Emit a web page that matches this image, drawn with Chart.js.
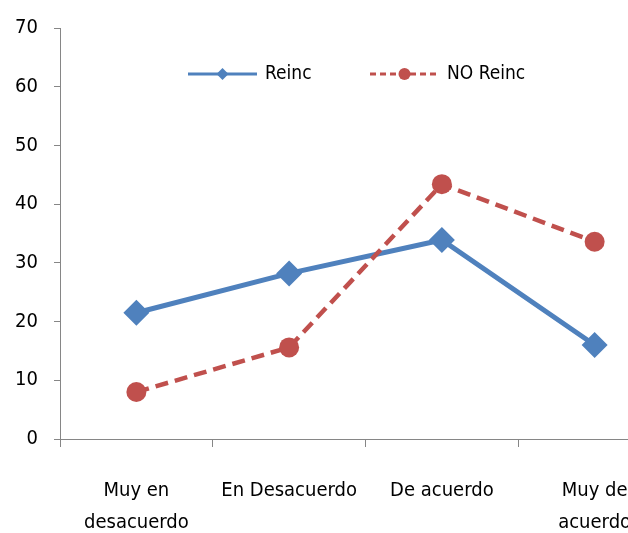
<!DOCTYPE html>
<html lang="es">
<head>
<meta charset="UTF-8">
<title>Reinc / NO Reinc</title>
<script src="https://cdn.jsdelivr.net/npm/chart.js"></script>
<style>
  html,body{margin:0;padding:0;background:#fff;overflow:hidden}
  #wrap{width:684px;height:533px}
</style>
</head>
<body>
<div id="wrap"><canvas id="chart" width="684" height="533"></canvas></div>
<script>
const categories=[['Muy en','desacuerdo'],'En Desacuerdo','De acuerdo',['Muy de','acuerdo']];
const reinc=[21.5,28.2,33.9,16.0];
const noReinc=[8.0,15.6,43.4,33.6];
const yTicks=[0,10,20,30,40,50,60,70];

const FONT='"Liberation Sans Narrow","DejaVu Sans Condensed",sans-serif';
const BLUE='#4F81BD';
const RED='#C0504D';

// leyenda estilo Excel: línea + marcador
const excelLegend={
  id:'excelLegend',
  afterDraw(chart){
    const ctx=chart.ctx, a=chart.chartArea;
    const y=a.top+46;
    const items=[
      {ds:chart.data.datasets[0],x:a.left+128,dash:[],style:'diamond'},
      {ds:chart.data.datasets[1],x:a.left+310,dash:[6,4],style:'circle'}
    ];
    ctx.save();
    items.forEach(it=>{
      ctx.strokeStyle=it.ds.borderColor;
      ctx.lineWidth=3;
      ctx.setLineDash(it.dash);
      ctx.beginPath();ctx.moveTo(it.x,y);ctx.lineTo(it.x+69,y);ctx.stroke();
      ctx.setLineDash([]);
      ctx.fillStyle=it.ds.borderColor;
      const cx=it.x+34.5;
      ctx.beginPath();
      if(it.style==='diamond'){
        ctx.moveTo(cx,y-6);ctx.lineTo(cx+6,y);ctx.lineTo(cx,y+6);ctx.lineTo(cx-6,y);ctx.closePath();
      }else{
        ctx.arc(cx,y,6,0,Math.PI*2);
      }
      ctx.fill();
      ctx.fillStyle='#000';
      ctx.font='19px '+FONT;
      ctx.textBaseline='middle';
      ctx.fillText(it.ds.label,it.x+77,y);
    });
    ctx.restore();
  }
};

new Chart(document.getElementById('chart'),{
  type:'line',
  data:{
    labels:categories,
    datasets:[
      {label:'Reinc',data:reinc,borderColor:BLUE,backgroundColor:BLUE,borderWidth:5,order:1,
       pointStyle:'rectRot',pointRadius:13,pointHoverRadius:13,pointBorderWidth:0,tension:0},
      {label:'NO Reinc',data:noReinc,borderColor:RED,backgroundColor:RED,borderWidth:4.5,order:0,
       borderDash:[13,7],pointStyle:'circle',pointRadius:10,pointHoverRadius:10,pointBorderWidth:0,tension:0}
    ]
  },
  options:{
    responsive:false,
    animation:false,
    layout:{padding:{top:24,right:10,left:0,bottom:0}},
    plugins:{legend:{display:false},tooltip:{enabled:false}},
    scales:{
      x:{
        offset:true,
        afterFit(s){s.height=94;},
        grid:{offset:true,drawOnChartArea:false,tickLength:8,color:'#868686'},
        border:{color:'#868686',width:1},
        ticks:{color:'#000',font:{family:FONT,size:20,lineHeight:1.6},padding:28,maxRotation:0,autoSkip:false}
      },
      y:{
        min:0,max:70,
        afterFit(s){s.width=60;},
        afterBuildTicks(s){s.ticks=yTicks.map(v=>({value:v}));},
        grid:{drawOnChartArea:false,tickLength:6,color:'#868686'},
        border:{color:'#868686',width:1},
        ticks:{color:'#000',font:{family:FONT,size:20},padding:16}
      }
    }
  },
  plugins:[excelLegend]
});
</script>
</body>
</html>
